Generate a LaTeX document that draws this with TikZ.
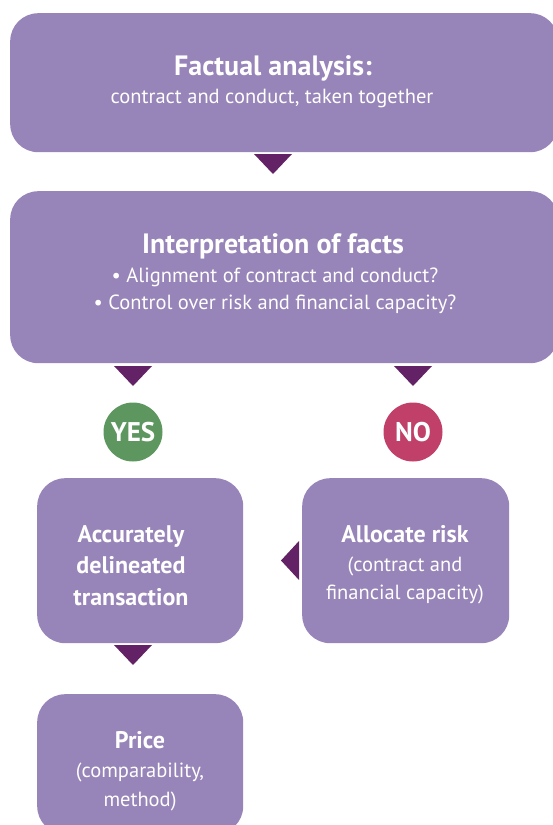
\documentclass[tikz,border=0pt]{standalone}
\usepackage{fontspec}
\setmainfont{PT Sans}
\definecolor{boxc}{HTML}{9784B8}
\definecolor{tric}{HTML}{642266}
\definecolor{yesc}{HTML}{5E9660}
\definecolor{noc}{HTML}{C0406A}
\begin{document}
\begin{tikzpicture}[x=1pt,y=-1pt,
  pbox/.style={fill=boxc, draw=none, rounded corners=28pt, inner sep=0pt, anchor=north west},
  tline/.style={text=white, inner sep=0pt, anchor=base},
  hd/.style={tline, font=\bfseries\fontsize{28}{32}\selectfont},
  bd/.style={tline, font=\fontsize{20.5}{24}\selectfont},
  sh/.style={tline, font=\bfseries\fontsize{24}{28}\selectfont},
  sb/.style={tline, font=\fontsize{20.5}{24}\selectfont},
  tri/.style={fill=tric, draw=none},
  badge/.style={circle, inner sep=0pt, minimum size=59pt, text=white, font=\bfseries\fontsize{27}{31}\selectfont}
]
\useasboundingbox (0,0) rectangle (553,825);
\clip (0,0) rectangle (553,825);
% boxes
\node[pbox, minimum width=548pt, minimum height=139pt] (fact) at (10,13) {};
\node[pbox, minimum width=548pt, minimum height=172pt] (interp) at (10,191) {};
\node[pbox, minimum width=206pt, minimum height=165pt] (acc) at (37,478) {};
\node[pbox, minimum width=207pt, minimum height=165pt] (alloc) at (302,478) {};
\node[pbox, minimum width=206pt, minimum height=140pt] (price) at (37,694) {};
% texts
\node[hd] (fact1) at (273,75) {Factual analysis:};
\node[bd] (fact2) at (272,103) {contract and conduct, taken together};
\node[hd] (int1) at (273,253) {Interpretation of facts};
\node[bd] (int2) at (275,282) {• Alignment of contract and conduct?};
\node[bd] (int3) at (275,309) {• Control over risk and financial capacity?};
\node[sh] (acc1) at (131,542) {Accurately};
\node[sh] (acc2) at (131,573) {delineated};
\node[sh] (acc3) at (131,605) {transaction};
\node[sh] (al1) at (405,542) {Allocate risk};
\node[sb] (al2) at (405,571) {(contract and};
\node[sb] (al3) at (405,599) {financial capacity)};
\node[sh] (pr1) at (140,748) {Price};
\node[sb] (pr2) at (140,777) {(comparability,};
\node[sb] (pr3) at (140,806) {method)};
% badges
\node[badge, fill=yesc] (yes) at (133,432) {YES};
\node[badge, fill=noc] (no) at (413,432) {NO};
% arrow triangles
\fill[tri] (254,154) -- (292,154) -- (273,174) -- cycle;
\fill[tri] (114,366) -- (152,366) -- (133,386) -- cycle;
\fill[tri] (394,366) -- (432,366) -- (413,386) -- cycle;
\fill[tri] (114,645) -- (152,645) -- (133,665) -- cycle;
\fill[tri] (299,541) -- (299,580) -- (281,560.5) -- cycle;
\end{tikzpicture}
\end{document}
